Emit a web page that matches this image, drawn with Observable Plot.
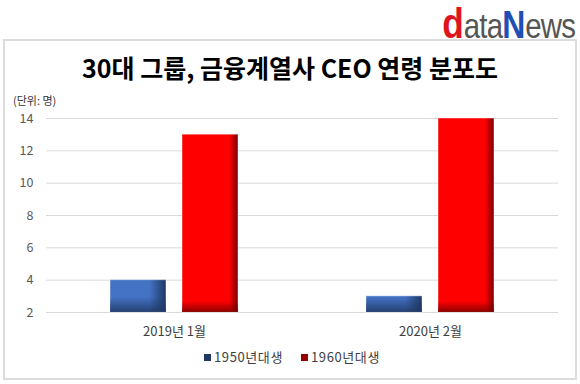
<!DOCTYPE html>
<html><head><meta charset="utf-8">
<script src="https://cdn.jsdelivr.net/npm/d3@7"></script>
<script src="https://cdn.jsdelivr.net/npm/@observablehq/plot@0.6"></script>
<style>
body{margin:0;background:#fff;font-family:"Noto Sans CJK KR","Noto Sans",sans-serif;}
#wrap{position:relative;width:580px;height:384px;overflow:hidden;background:#fff;}
#frame{position:absolute;left:3px;top:39px;width:570px;height:337px;border:2px solid #dcdcdc;}
#logo{position:absolute;right:5px;top:0px;height:48px;white-space:nowrap;font-family:"Liberation Sans",Arial,sans-serif;transform:scaleX(0.84);transform-origin:right top;line-height:48px;}
#logo .d{font-size:42px;font-weight:bold;color:#e0141e;}
#logo .g{font-size:35px;color:#555;letter-spacing:-1px;}
#logo .n{font-size:38px;font-weight:bold;color:#1f4fb4;}
#title{position:absolute;left:0;width:580px;top:51px;line-height:32px;text-align:center;font-size:25px;font-weight:bold;color:#000;}
#unit{position:absolute;left:13px;top:93px;line-height:14px;font-size:11px;color:#333;}
#chart{position:absolute;left:0;top:108px;}
#legend{position:absolute;top:349px;left:0;width:584px;text-align:center;font-size:13px;letter-spacing:0.6px;line-height:16px;color:#404040;}
#legend .item{display:inline-block;margin:0 9px;}
#legend .sw{display:inline-block;width:7px;height:7px;margin-right:3px;vertical-align:1px;}
</style></head>
<body>
<div id="wrap">
  <div id="frame"></div>
  <div id="logo"><span class="d">d</span><span class="g">ata</span><span class="n">N</span><span class="g">ews</span></div>
  <div id="title">30대 그룹, 금융계열사 CEO 연령 분포도</div>
  <div id="unit">(단위: 명)</div>
  <div id="chart"></div>
  <div id="legend"></div>
</div>
<script>
const categories = ["2019년 1월", "2020년 2월"];
const series = ["1950년대생", "1960년대생"];
const values1950 = [4, 3];
const values1960 = [13, 14];
const yTicks = [2, 4, 6, 8, 10, 12, 14];

const baseColors = ["#4472C4", "#FF0000"];
const darkColors = ["#1F3864", "#7A0000"];
const legendColors = ["#203864", "#990000"];

const data = categories.flatMap((c, i) => [
  {cat: c, series: series[0], value: values1950[i]},
  {cat: c, series: series[1], value: values1960[i]}
]);
const base = yTicks[0];

const plot = Plot.plot({
  width: 580, height: 240,
  marginLeft: 45, marginRight: 22, marginTop: 10, marginBottom: 36,
  style: {fontFamily: '"Noto Sans CJK KR","Noto Sans",sans-serif', fontSize: "12.5px", color: "#595959", background: "transparent"},
  fx: {domain: categories, padding: 0, label: null},
  x: {domain: series, paddingInner: 0.22, paddingOuter: 0.87, axis: null},
  y: {domain: [yTicks[0], yTicks[yTicks.length - 1]], label: null},
  color: {domain: series, range: ["url(#gBlue)", "url(#gRed)"]},
  marks: [
    Plot.gridY(yTicks, {stroke: "#d9d9d9", strokeOpacity: 1, strokeWidth: 1}),
    Plot.axisY(yTicks, {tickSize: 0, tickPadding: 13, label: null, fill: "#595959"}),
    Plot.axisFx({anchor: "bottom", tickSize: 0, tickPadding: 14, label: null, fill: "#404040", fontSize: 13}),
    Plot.barY(data, {fx: "cat", x: "series", y1: base, y2: "value", fill: "series", stroke: "#ffffff", strokeOpacity: 0.45, strokeWidth: 1}),
    Plot.barY(data.filter(d => d.series === series[0]), {fx: "cat", x: "series", y1: base, y2: "value", fill: "none", className: "shade-0"}),
    Plot.barY(data.filter(d => d.series === series[1]), {fx: "cat", x: "series", y1: base, y2: "value", fill: "none", className: "shade-1"})
  ]
});

const svg = d3.select(plot);
const defs = svg.insert("defs", ":first-child");
function hGrad(id, c, dk, start) {
  const g = defs.append("linearGradient").attr("id", id).attr("x1", 0).attr("x2", 1).attr("y1", 0).attr("y2", 0);
  g.append("stop").attr("offset", 0).attr("stop-color", c);
  g.append("stop").attr("offset", start).attr("stop-color", c);
  g.append("stop").attr("offset", 1).attr("stop-color", dk);
}
hGrad("gBlue", baseColors[0], darkColors[0], 0.70);
hGrad("gRed", baseColors[1], darkColors[1], 0.84);

let k = 0;
[0, 1].forEach(si => {
  svg.selectAll(".shade-" + si + " rect").each(function() {
    const r = d3.select(this);
    const h = +r.attr("height");
    const band = si === 0 ? 15 : 11;
    const id = "vg" + (k++);
    const g = defs.append("linearGradient").attr("id", id).attr("x1", 0).attr("x2", 0).attr("y1", 0).attr("y2", 1);
    g.append("stop").attr("offset", 0).attr("stop-color", darkColors[si]).attr("stop-opacity", 0);
    g.append("stop").attr("offset", Math.max(0, 1 - band / h)).attr("stop-color", darkColors[si]).attr("stop-opacity", 0);
    g.append("stop").attr("offset", 1).attr("stop-color", darkColors[si]).attr("stop-opacity", 0.85);
    r.attr("fill", "url(#" + id + ")");
  });
});

document.getElementById("chart").appendChild(plot);

const legend = d3.select("#legend");
series.forEach((s, i) => {
  const it = legend.append("span").attr("class", "item");
  it.append("span").attr("class", "sw").style("background", legendColors[i]);
  it.append("span").text(s);
});
</script>
</body></html>
